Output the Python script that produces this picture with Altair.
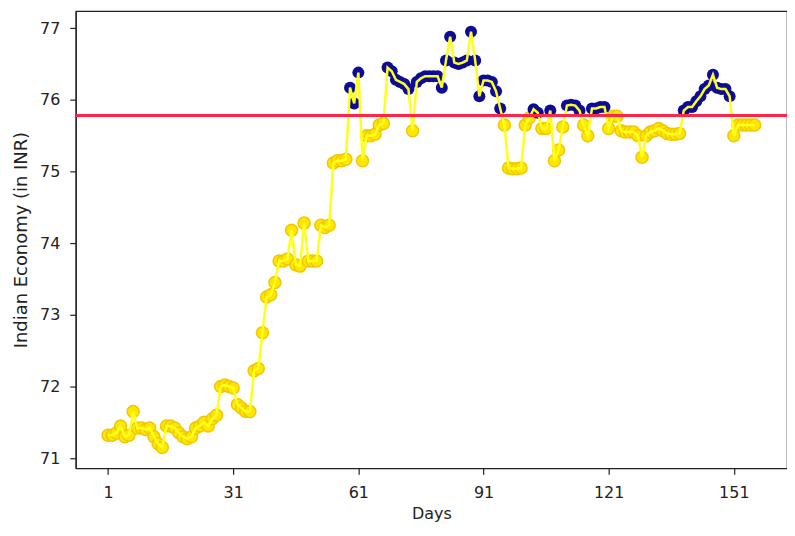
import altair as alt
import pandas as pd

days = list(range(1, 157))
values = [
    71.32, 71.32, 71.35, 71.45, 71.30, 71.32, 71.65, 71.42, 71.42, 71.40,
    71.42, 71.30, 71.20, 71.15, 71.45, 71.45, 71.42, 71.35, 71.30, 71.27,
    71.30, 71.42, 71.45, 71.50, 71.45, 71.55, 71.60, 72.00, 72.02, 72.00,
    71.98, 71.75, 71.70, 71.65, 71.65, 72.22, 72.25, 72.75, 73.25, 73.28,
    73.45, 73.75, 73.75, 73.78, 74.18, 73.70, 73.68, 74.28, 73.75, 73.75,
    73.75, 74.25, 74.22, 74.25, 75.12, 75.15, 75.15, 75.17, 76.17, 75.95,
    76.38, 75.15, 75.50, 75.50, 75.52, 75.65, 75.67, 76.45, 76.40, 76.28,
    76.25, 76.22, 76.15, 75.57, 76.25, 76.30, 76.33, 76.33, 76.33, 76.33,
    76.17, 76.55, 76.88, 76.52, 76.50, 76.52, 76.55, 76.95, 76.55, 76.05,
    76.27, 76.27, 76.25, 76.12, 75.88, 75.65, 75.05, 75.04, 75.04, 75.05,
    75.65, 75.75, 75.87, 75.82, 75.60, 75.60, 75.85, 75.15, 75.30, 75.62,
    75.92, 75.93, 75.92, 75.85, 75.65, 75.50, 75.88, 75.88, 75.90, 75.90,
    75.60, 75.77, 75.77, 75.57, 75.55, 75.55, 75.55, 75.50, 75.20, 75.50,
    75.55, 75.57, 75.60, 75.57, 75.53, 75.52, 75.52, 75.53, 75.85, 75.90,
    75.90, 75.98, 76.05, 76.15, 76.20, 76.35, 76.17, 76.15, 76.15, 76.05,
    75.50, 75.65, 75.65, 75.65, 75.65, 75.65,
]
threshold = 75.78
x_ticks = [1, 31, 61, 91, 121, 151]
y_ticks = [71, 72, 73, 74, 75, 76, 77]

df = pd.DataFrame({"day": days, "value": values})
df["above"] = df["value"] >= threshold

FONT = "DejaVu Sans"
INK = "#222222"

x_enc = alt.X(
    "day:Q",
    scale=alt.Scale(domain=[-6.75, 163.75], nice=False, zero=False),
    axis=alt.Axis(values=x_ticks, title="Days", grid=False, format="d",
                  labelPadding=10, titlePadding=5),
)
y_enc = alt.Y(
    "value:Q",
    scale=alt.Scale(domain=[70.86, 77.24], nice=False, zero=False),
    axis=alt.Axis(values=y_ticks, title="Indian Economy (in INR)", grid=False,
                  format="d", labelPadding=10, titlePadding=9,
                  titleFontSize=18),
)

base = alt.Chart(df).encode(x=x_enc, y=y_enc)

yellow_pts = base.transform_filter(alt.datum.above == False).mark_circle(
    size=145, color="#ffe600", stroke="#f0c800", strokeWidth=1.5, opacity=1
)
navy_pts = base.transform_filter(alt.datum.above == True).mark_circle(
    size=145, color="#0c0c96", opacity=1
)
line = base.mark_line(color="#ffff1e", strokeWidth=2.5)

rule = alt.Chart(pd.DataFrame({"t": [threshold]})).mark_rule(
    color="#ff2448", strokeWidth=3
).encode(y=alt.Y("t:Q"))

chart = (
    alt.layer(yellow_pts, navy_pts, line, rule)
    .properties(
        width=714,
        height=459,
        padding={"left": 68, "top": 2, "right": 0, "bottom": 55},
        autosize="none",
    )
    .configure_view(stroke=INK, strokeWidth=1.2)
    .configure_axis(
        labelFont=FONT,
        titleFont=FONT,
        labelFontSize=16,
        titleFontSize=16,
        titleFontWeight="normal",
        labelColor=INK,
        titleColor=INK,
        tickColor=INK,
        domainColor=INK,
        tickSize=6,
        domainWidth=1.2,
        tickWidth=1.2,
    )
)

chart.save("out.html", embed_options={"renderer": "svg", "actions": False})
